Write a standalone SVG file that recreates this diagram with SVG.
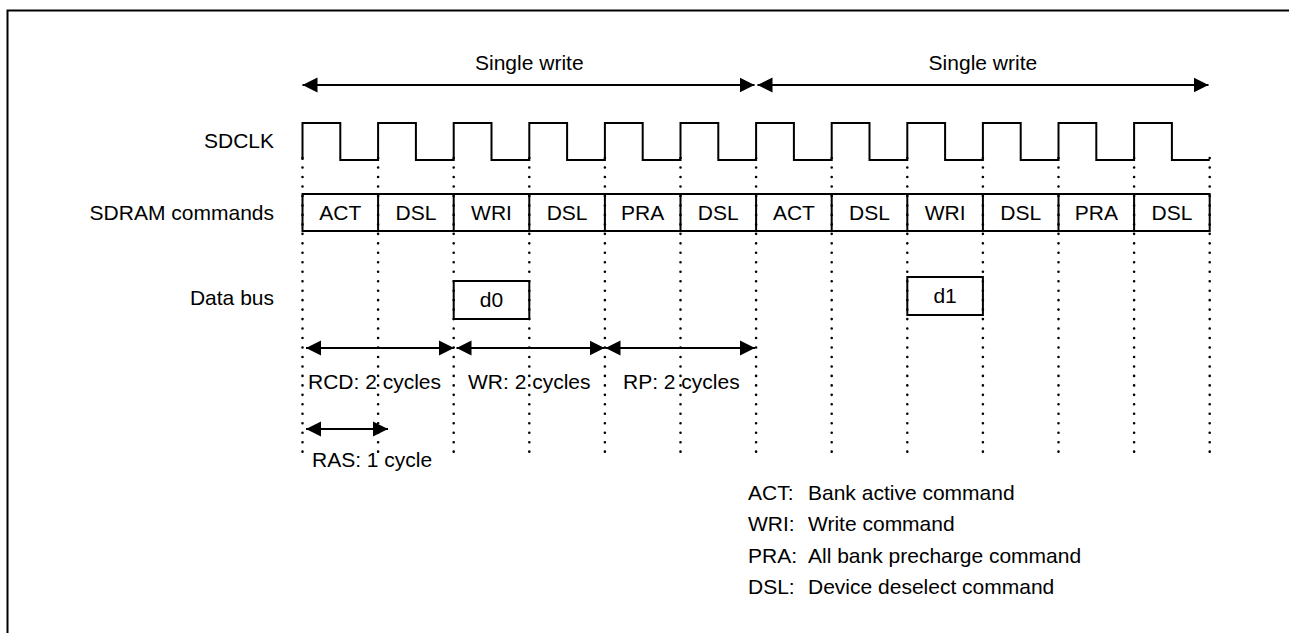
<svg xmlns="http://www.w3.org/2000/svg" width="1289" height="633" viewBox="0 0 1289 633">
<defs>
<style>
text{font-family:"Liberation Sans",Arial,sans-serif;font-size:21px;fill:#000}
.c{text-anchor:middle}
.r{text-anchor:end}
.ln{stroke:#000;stroke-width:2;fill:none}
.dot{stroke:#000;stroke-width:2.6;stroke-linecap:round;stroke-dasharray:0 9.47;fill:none}
.arr{stroke:#000;stroke-width:2;fill:none;marker-start:url(#ah);marker-end:url(#ah)}
</style>
<marker id="ah" markerUnits="userSpaceOnUse" markerWidth="16" markerHeight="16" viewBox="0 0 16 16" refX="15" refY="8" orient="auto-start-reverse">
<path d="M0,0.5 L15,8 L0,15.5 Z" fill="#000"/>
</marker>
</defs>
<rect width="1289" height="633" fill="#fff"/>
<g id="frame">
<path class="ln" d="M7.5,633 V10.5 H1289" stroke-width="3"/>
</g>
<g id="row-labels">
<text class="r" x="274" y="148">SDCLK</text>
<text class="r" x="274" y="220">SDRAM commands</text>
<text class="r" x="274" y="305">Data bus</text>
</g>
<g id="gridlines">
<path class="dot" d="M302.5,158.1V452 M378.1,158.1V452 M453.7,158.1V452 M529.3,158.1V452 M604.9,158.1V452 M680.5,158.1V452 M756.1,158.1V452 M831.7,158.1V452 M907.3,158.1V452 M982.9,158.1V452 M1058.5,158.1V452 M1134.1,158.1V452 M1209.7,158.1V452"/>
</g>
<g id="sdclk">
<path class="ln" d="M302.5,160 V123 H340.3 V160 H378.1 V123 H415.9 V160 H453.7 V123 H491.5 V160 H529.3 V123 H567.1 V160 H604.9 V123 H642.7 V160 H680.5 V123 H718.3 V160 H756.1 V123 H793.9 V160 H831.7 V123 H869.5 V160 H907.3 V123 H945.1 V160 H982.9 V123 H1020.7 V160 H1058.5 V123 H1096.3 V160 H1134.1 V123 H1171.9 V160 H1209.7"/>
</g>
<g id="commands">
<rect class="ln" x="302.5" y="194" width="907.2" height="37"/>
<path class="ln" d="M378.1,194V231 M453.7,194V231 M529.3,194V231 M604.9,194V231 M680.5,194V231 M756.1,194V231 M831.7,194V231 M907.3,194V231 M982.9,194V231 M1058.5,194V231 M1134.1,194V231"/>
<g id="cmd1"><text class="c" x="340.3" y="220">ACT</text></g>
<g id="cmd2"><text class="c" x="415.9" y="220">DSL</text></g>
<g id="cmd3"><text class="c" x="491.5" y="220">WRI</text></g>
<g id="cmd4"><text class="c" x="567.1" y="220">DSL</text></g>
<g id="cmd5"><text class="c" x="642.7" y="220">PRA</text></g>
<g id="cmd6"><text class="c" x="718.3" y="220">DSL</text></g>
<g id="cmd7"><text class="c" x="793.9" y="220">ACT</text></g>
<g id="cmd8"><text class="c" x="869.5" y="220">DSL</text></g>
<g id="cmd9"><text class="c" x="945.1" y="220">WRI</text></g>
<g id="cmd10"><text class="c" x="1020.7" y="220">DSL</text></g>
<g id="cmd11"><text class="c" x="1096.3" y="220">PRA</text></g>
<g id="cmd12"><text class="c" x="1171.9" y="220">DSL</text></g>
</g>
<g id="d0">
<rect class="ln" x="453.7" y="281" width="75.6" height="38"/>
<text class="c" x="491.5" y="307">d0</text>
</g>
<g id="d1">
<rect class="ln" x="907.3" y="277" width="75.6" height="38"/>
<text class="c" x="945.1" y="303">d1</text>
</g>
<g id="connectors">
<line class="arr" x1="302.5" y1="85" x2="754.5" y2="85"/>
<line class="arr" x1="757.5" y1="85" x2="1208.5" y2="85"/>
<line class="arr" x1="306" y1="348" x2="454" y2="348"/>
<line class="arr" x1="456.5" y1="348" x2="604.5" y2="348"/>
<line class="arr" x1="605.5" y1="348" x2="755" y2="348"/>
<line class="arr" x1="306" y1="429" x2="388" y2="429"/>
</g>
<g id="arrow-labels">
<text class="c" x="529.3" y="70">Single write</text>
<text class="c" x="982.9" y="70">Single write</text>
<text x="308" y="389">RCD: 2 cycles</text>
<text x="468" y="389">WR: 2 cycles</text>
<text x="623" y="389">RP: 2 cycles</text>
<text x="312" y="467">RAS: 1 cycle</text>
</g>
<g id="legend">
<text x="748" y="500">ACT:</text><text x="808" y="500">Bank active command</text>
<text x="748" y="531">WRI:</text><text x="808" y="531">Write command</text>
<text x="748" y="563">PRA:</text><text x="808" y="563">All bank precharge command</text>
<text x="748" y="594">DSL:</text><text x="808" y="594">Device deselect command</text>
</g>
</svg>
